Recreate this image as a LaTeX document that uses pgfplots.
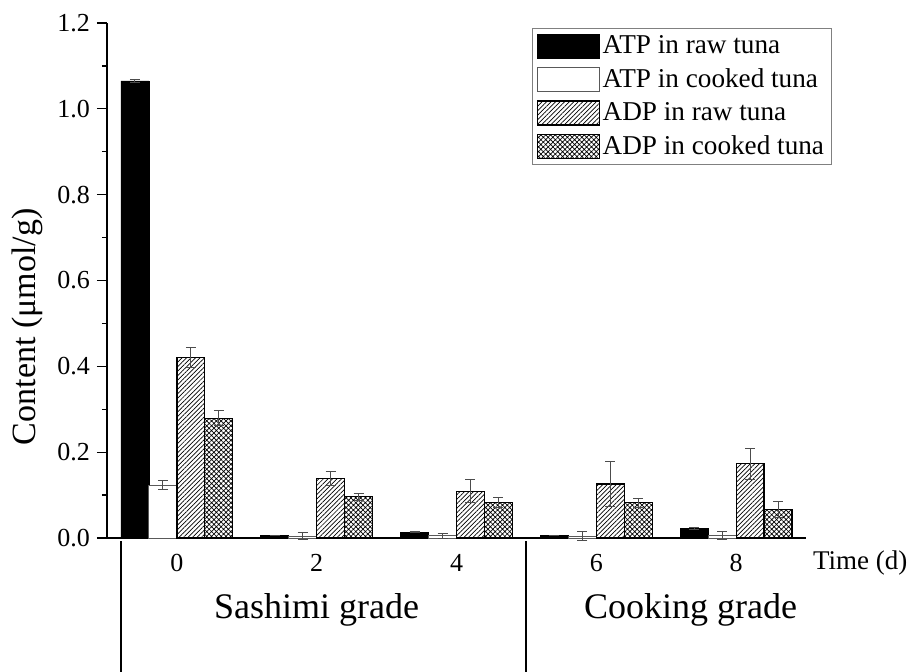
\documentclass[border=0pt]{standalone}
\usepackage{pgfplots}
\pgfplotsset{compat=1.18}
\usetikzlibrary{patterns.meta}
\usepackage{fontspec}
\setmainfont{Liberation Serif}
\definecolor{errc}{gray}{0.3}
\begin{document}
\begin{tikzpicture}
\useasboundingbox (0,0) rectangle (454.5pt,335.5pt);
\begin{axis}[
  at={(53.5pt,66.5pt)}, anchor=south west,
  scale only axis, width=349.5pt, height=257.5pt,
  xmin=-1, xmax=9, ymin=0, ymax=1.2,
  clip=false,
  axis x line*=bottom, axis y line*=left,
  axis line style={-, line width=0.8pt},
  ytick={0,0.2,0.4,0.6,0.8,1.0,1.2},
  minor ytick={0.1,0.3,0.5,0.7,0.9,1.1},
  ytick pos=left,
  tick align=outside,
  major tick length=5pt, minor tick length=2.5pt,
  every tick/.style={black, line width=0.6pt},
  xtick={0,2,4,6,8},
  xtick style={draw=none},
  /pgf/number format/assume math mode=true,
  yticklabel style={font=\fontsize{13}{15}\selectfont, /pgf/number format/.cd, fixed, fixed zerofill, precision=1},
  xticklabel style={font=\fontsize{13}{15}\selectfont, yshift=0.5pt},
  ylabel={Content (μmol/g)},
  every axis y label/.style={at={(axis description cs:-0.114,0.41)}, rotate=90, anchor=center, font=\fontsize{17}{19}\selectfont},
  ybar, bar width=0.4, bar shift=0pt,
  legend style={at={(axis description cs:0.608,0.99)}, anchor=north west, draw=gray, line width=0.5pt,
    font=\fontsize{13.6}{16}\selectfont, inner sep=2pt, row sep=3pt, nodes={inner sep=1.5pt}, cells={anchor=west}},
  legend image code/.code={\draw[#1] (0pt,-6pt) rectangle (31pt,6pt);},
  legend cell align=left,
]
\addplot[fill=black, draw=black, line width=0.4pt,
  error bars/.cd, y dir=both, y explicit, error bar style={errc, line width=0.5pt},
  error mark options={rotate=90, mark size=2.5pt, errc, line width=0.5pt}]
  coordinates {(-0.6,1.065) +- (0,0.004) (1.4,0.006) +- (0,0.001) (3.4,0.014) +- (0,0.001) (5.4,0.006) +- (0,0.001) (7.4,0.0225) +- (0,0.002)};
\addlegendentry{ATP in raw tuna}
\addplot[fill=white, draw=gray!70!black, line width=0.5pt,
  error bars/.cd, y dir=both, y explicit, error bar style={errc, line width=0.5pt},
  error mark options={rotate=90, mark size=2.5pt, errc, line width=0.5pt}]
  coordinates {(-0.2,0.123) +- (0,0.010) (1.8,0.004) +- (0,0.008) (3.8,0.005) +- (0,0.006) (5.8,0.004) +- (0,0.010) (7.8,0.006) +- (0,0.010)};
\addlegendentry{ATP in cooked tuna}
\addplot[draw=black, line width=0.6pt, pattern={Lines[angle=45, distance=1.6pt, line width=0.35pt]},
  error bars/.cd, y dir=both, y explicit, error bar style={errc, line width=0.5pt},
  error mark options={rotate=90, mark size=2.5pt, errc, line width=0.5pt}]
  coordinates {(0.2,0.421) +- (0,0.023) (2.2,0.139) +- (0,0.016) (4.2,0.109) +- (0,0.027) (6.2,0.126) +- (0,0.053) (8.2,0.173) +- (0,0.036)};
\addlegendentry{ADP in raw tuna}
\addplot[draw=black, line width=0.6pt, pattern={Hatch[angle=45, distance=1.7pt, line width=0.35pt]},
  error bars/.cd, y dir=both, y explicit, error bar style={errc, line width=0.5pt},
  error mark options={rotate=90, mark size=2.5pt, errc, line width=0.5pt}]
  coordinates {(0.6,0.279) +- (0,0.018) (2.6,0.096) +- (0,0.008) (4.6,0.082) +- (0,0.012) (6.6,0.082) +- (0,0.011) (8.6,0.066) +- (0,0.019)};
\addlegendentry{ADP in cooked tuna}
\draw[line width=1pt] ([yshift=-1.5pt]axis cs:-0.8,0) -- ([yshift=-68pt]axis cs:-0.8,0);
\draw[line width=1pt] ([yshift=-1.5pt]axis cs:5,0) -- ([yshift=-68pt]axis cs:5,0);
\node[anchor=west, font=\fontsize{13.5}{15}\selectfont] at ([xshift=0pt,yshift=-12.5pt]rel axis cs:1,0) {Time (d)};
\node[font=\fontsize{18}{21}\selectfont] at ([yshift=-36pt]axis cs:2,0) {Sashimi grade};
\node[font=\fontsize{18}{21}\selectfont] at ([yshift=-36pt]axis cs:7.35,0) {Cooking grade};
\end{axis}
\end{tikzpicture}
\end{document}
